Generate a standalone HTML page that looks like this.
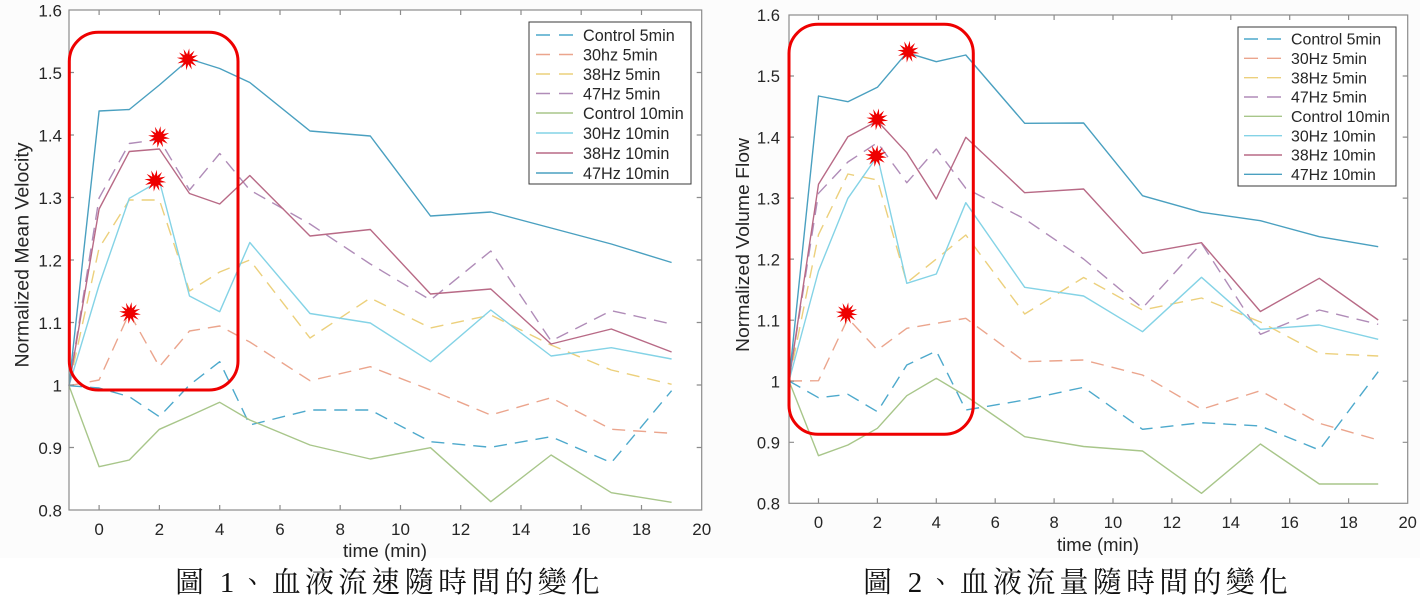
<!DOCTYPE html>
<html><head><meta charset="utf-8"><style>
html,body{margin:0;padding:0;background:#fff;}
svg{display:block;}
text{font-family:"Liberation Sans",Arial,sans-serif;fill:#262626;}
.cap{font-family:"Liberation Serif","Noto Serif CJK TC","Noto Serif CJK SC",serif;fill:#111;}
.ax{stroke:#8c8c8c;stroke-width:1.2;fill:none;}
.s{fill:none;stroke-width:1.4;stroke-linejoin:round;}
.d{stroke-dasharray:13 8;}
</style></head><body>
<svg width="1420" height="602" viewBox="0 0 1420 602" xmlns="http://www.w3.org/2000/svg">
<defs>
<polygon id="star" fill="#ee0000" points="11,0 4.83,1.29 9.53,5.5 3.54,3.54 5.5,9.53 1.29,4.83 0,11 -1.29,4.83 -5.5,9.53 -3.54,3.54 -9.53,5.5 -4.83,1.29 -11,0 -4.83,-1.29 -9.53,-5.5 -3.54,-3.54 -5.5,-9.53 -1.29,-4.83 0,-11 1.29,-4.83 5.5,-9.53 3.54,-3.54 9.53,-5.5 4.83,-1.29"/>
</defs>
<rect x="0" y="0" width="722" height="558" fill="#fcfcfc"/>
<rect x="722" y="0" width="698" height="558" fill="#fcfcfc"/>

<!-- ============ LEFT CHART ============ -->
<rect x="69" y="10" width="632.7" height="500" fill="#fff"/>
<!-- series -->
<polyline class="s" stroke="#b08cb8" style="stroke-dasharray:13 8" points="69,385.7 99.1,198 129.3,143.5 159.4,139.5 189.5,190 219.7,153.5 249.8,190 310,224 370.3,264 430.5,300 490.8,251 551.1,341 611.3,310.7 671.6,324"/>
<polyline class="s" stroke="#ecd07c" style="stroke-dasharray:13 8" points="69,385.7 99.1,248 129.3,200 159.4,200 189.5,291 219.7,272 249.8,260 310,338 370.3,298 430.5,328 490.8,315 551.1,345 611.3,370 671.6,384.3"/>
<polyline class="s" stroke="#eba58d" style="stroke-dasharray:13 8" points="69,385.7 99.1,380 129.3,313 159.4,366.7 189.5,331 219.7,326 249.8,342 310,380.7 370.3,366.7 430.5,390 490.8,415 551.1,397.7 611.3,429.3 671.6,433.3"/>
<polyline class="s" stroke="#4da9cc" style="stroke-dasharray:13 8" points="69,385.7 99.1,388 129.3,396.7 159.4,416.7 189.5,385 219.7,361.7 249.8,425 310,410 370.3,410 430.5,441.7 490.8,447.3 551.1,436.7 611.3,462.7 671.6,390.7"/>
<polyline class="s" stroke="#a8c68a" points="69,385.7 99.1,466.7 129.3,460 159.4,429.3 189.5,416 219.7,402.3 249.8,420 310,445 370.3,459 430.5,447.7 490.8,501.7 551.1,455 611.3,492.7 671.6,502.3"/>
<polyline class="s" stroke="#84d3e6" points="69,385.7 99.1,285 129.3,198.3 159.4,181 189.5,296 219.7,311.7 249.8,242.5 310,313.5 370.3,323 430.5,361.7 490.8,310 551.1,356 611.3,347.7 671.6,359"/>
<polyline class="s" stroke="#b86a86" points="69,385.7 99.1,209 129.3,151.5 159.4,149 189.5,193.5 219.7,204 249.8,175.5 310,236 370.3,229.5 430.5,294 490.8,289 551.1,344 611.3,329 671.6,352"/>
<polyline class="s" stroke="#4aa0c0" points="69,385.7 99.1,111 129.3,109.5 159.4,85 189.5,59 219.7,68.5 249.8,82.5 310,131 370.3,136 430.5,216 490.8,212 551.1,228 611.3,244 671.6,262.5"/>
<!-- axes -->
<rect class="ax" x="69" y="10" width="632.7" height="500"/>
<path class="ax" d="M99.1,510v-5M159.4,510v-5M219.7,510v-5M280,510v-5M340.2,510v-5M400.5,510v-5M460.7,510v-5M521,510v-5M581.2,510v-5M641.5,510v-5
M99.1,10v5M159.4,10v5M219.7,10v5M280,10v5M340.2,10v5M400.5,10v5M460.7,10v5M521,10v5M581.2,10v5M641.5,10v5
M69,447.5h5M69,385h5M69,322.5h5M69,260h5M69,197.5h5M69,135h5M69,72.5h5
M701.7,447.5h-5M701.7,385h-5M701.7,322.5h-5M701.7,260h-5M701.7,197.5h-5M701.7,135h-5M701.7,72.5h-5"/>
<g font-size="17" text-anchor="middle">
<text x="99.1" y="535">0</text><text x="159.4" y="535">2</text><text x="219.7" y="535">4</text><text x="280" y="535">6</text><text x="340.2" y="535">8</text><text x="400.5" y="535">10</text><text x="460.7" y="535">12</text><text x="521" y="535">14</text><text x="581.2" y="535">16</text><text x="641.5" y="535">18</text><text x="701.7" y="535">20</text>
</g>
<g font-size="17" text-anchor="end">
<text x="62" y="516.5">0.8</text><text x="62" y="454">0.9</text><text x="62" y="391.5">1</text><text x="62" y="329">1.1</text><text x="62" y="266.5">1.2</text><text x="62" y="204">1.3</text><text x="62" y="141.5">1.4</text><text x="62" y="79">1.5</text><text x="62" y="16.5">1.6</text>
</g>
<text x="385" y="557" font-size="18.7" text-anchor="middle" textLength="84" lengthAdjust="spacingAndGlyphs">time (min)</text>
<text transform="translate(28.5,255) rotate(-90)" font-size="19" text-anchor="middle" textLength="225" lengthAdjust="spacingAndGlyphs">Normalized Mean Velocity</text>
<!-- legend -->
<rect x="529" y="22" width="162" height="162" fill="#fff" stroke="#3a3a3a" stroke-width="1"/>
<g stroke-width="1.4">
<line x1="536" y1="35" x2="573" y2="35" stroke="#4da9cc" stroke-dasharray="14 9"/>
<line x1="536" y1="54.5" x2="573" y2="54.5" stroke="#eba58d" stroke-dasharray="14 9"/>
<line x1="536" y1="74" x2="573" y2="74" stroke="#ecd07c" stroke-dasharray="14 9"/>
<line x1="536" y1="93.5" x2="573" y2="93.5" stroke="#b08cb8" stroke-dasharray="14 9"/>
<line x1="536" y1="113" x2="573" y2="113" stroke="#a8c68a"/>
<line x1="536" y1="133" x2="573" y2="133" stroke="#84d3e6"/>
<line x1="536" y1="153" x2="573" y2="153" stroke="#b86a86"/>
<line x1="536" y1="173" x2="573" y2="173" stroke="#4aa0c0"/>
</g>
<g font-size="16.2">
<text x="583" y="40.8">Control 5min</text>
<text x="583" y="60.3">30hz 5min</text>
<text x="583" y="79.8">38Hz 5min</text>
<text x="583" y="99.3">47Hz 5min</text>
<text x="583" y="118.8">Control 10min</text>
<text x="583" y="138.8">30Hz 10min</text>
<text x="583" y="158.8">38Hz 10min</text>
<text x="583" y="178.8">47Hz 10min</text>
</g>
<!-- annotation -->
<rect x="69.3" y="32.3" width="168.7" height="357.7" rx="29" ry="29" fill="none" stroke="#ee0000" stroke-width="3"/>
<use href="#star" transform="translate(187.7,59.3) rotate(8)"/>
<use href="#star" transform="translate(159,137) rotate(8)"/>
<use href="#star" transform="translate(155.3,180.7) rotate(8)"/>
<use href="#star" transform="translate(130,313) rotate(8)"/>
<text class="cap" x="175" y="592" font-size="29" textLength="425" lengthAdjust="spacing">圖 1、血液流速隨時間的變化</text>

<!-- ============ RIGHT CHART ============ -->
<rect x="789" y="15" width="618.7" height="488.3" fill="#fff"/>
<polyline class="s" stroke="#b08cb8" style="stroke-dasharray:13 8" points="789,381 818.5,193.3 847.9,162 877.4,142.7 906.8,182.7 936.3,149 965.8,188.3 1024.7,219 1083.6,259 1142.5,308 1201.5,243.3 1260.4,334.3 1319.3,310 1378.2,324.3"/>
<polyline class="s" stroke="#ecd07c" style="stroke-dasharray:13 8" points="789,381 818.5,234.7 847.9,174 877.4,180 906.8,282.7 936.3,259 965.8,235 1024.7,314 1083.6,277.5 1142.5,310 1201.5,298 1260.4,322 1319.3,353.3 1378.2,356"/>
<polyline class="s" stroke="#eba58d" style="stroke-dasharray:13 8" points="789,381 818.5,380.7 847.9,318.3 877.4,350 906.8,328.3 936.3,323.3 965.8,318.3 1024.7,361.7 1083.6,360 1142.5,375 1201.5,409.3 1260.4,390.7 1319.3,423.3 1378.2,440"/>
<polyline class="s" stroke="#4da9cc" style="stroke-dasharray:13 8" points="789,381 818.5,397.7 847.9,394.3 877.4,411.7 906.8,365 936.3,351 965.8,410 1024.7,400 1083.6,387.3 1142.5,429.3 1201.5,422.7 1260.4,426 1319.3,450 1378.2,371.7"/>
<polyline class="s" stroke="#a8c68a" points="789,381 818.5,455.7 847.9,445 877.4,428.3 906.8,395.7 936.3,378.3 965.8,396 1024.7,436.7 1083.6,446.5 1142.5,451 1201.5,493.3 1260.4,444 1319.3,484 1378.2,484"/>
<polyline class="s" stroke="#84d3e6" points="789,381 818.5,271 847.9,198.3 877.4,156 906.8,283.3 936.3,274 965.8,202.7 1024.7,287.3 1083.6,296 1142.5,331.7 1201.5,277.3 1260.4,329.3 1319.3,325 1378.2,339.3"/>
<polyline class="s" stroke="#b86a86" points="789,381 818.5,184.3 847.9,136.7 877.4,121 906.8,152.7 936.3,199 965.8,137.3 1024.7,192.7 1083.6,189 1142.5,253.3 1201.5,242.7 1260.4,311.5 1319.3,278.3 1378.2,320"/>
<polyline class="s" stroke="#4aa0c0" points="789,381 818.5,96 847.9,101.7 877.4,87.3 906.8,52.7 936.3,61.7 965.8,55 1024.7,123.3 1083.6,123 1142.5,195.7 1201.5,212.3 1260.4,220.7 1319.3,236.7 1378.2,246.7"/>
<rect class="ax" x="789" y="15" width="618.7" height="488.3"/>
<path class="ax" d="M818.5,503.3v-5M877.4,503.3v-5M936.3,503.3v-5M995.2,503.3v-5M1054.1,503.3v-5M1113,503.3v-5M1171.9,503.3v-5M1230.8,503.3v-5M1289.7,503.3v-5M1348.6,503.3v-5
M818.5,15v5M877.4,15v5M936.3,15v5M995.2,15v5M1054.1,15v5M1113,15v5M1171.9,15v5M1230.8,15v5M1289.7,15v5M1348.6,15v5
M789,442.3h5M789,381.2h5M789,320.2h5M789,259.1h5M789,198.1h5M789,137.1h5M789,76h5
M1407.7,442.3h-5M1407.7,381.2h-5M1407.7,320.2h-5M1407.7,259.1h-5M1407.7,198.1h-5M1407.7,137.1h-5M1407.7,76h-5"/>
<g font-size="16.6" text-anchor="middle">
<text x="818.5" y="528">0</text><text x="877.4" y="528">2</text><text x="936.3" y="528">4</text><text x="995.2" y="528">6</text><text x="1054.1" y="528">8</text><text x="1113" y="528">10</text><text x="1171.9" y="528">12</text><text x="1230.8" y="528">14</text><text x="1289.7" y="528">16</text><text x="1348.6" y="528">18</text><text x="1407.7" y="528">20</text>
</g>
<g font-size="16.6" text-anchor="end">
<text x="780" y="509.5">0.8</text><text x="780" y="448.5">0.9</text><text x="780" y="387.4">1</text><text x="780" y="326.4">1.1</text><text x="780" y="265.3">1.2</text><text x="780" y="204.3">1.3</text><text x="780" y="143.3">1.4</text><text x="780" y="82.2">1.5</text><text x="780" y="21.2">1.6</text>
</g>
<text x="1098" y="551" font-size="18.3" text-anchor="middle" textLength="82" lengthAdjust="spacingAndGlyphs">time (min)</text>
<text transform="translate(749,245) rotate(-90)" font-size="18.6" text-anchor="middle" textLength="214" lengthAdjust="spacingAndGlyphs">Normalized Volume Flow</text>
<rect x="1238" y="27" width="158" height="159" fill="#fff" stroke="#3a3a3a" stroke-width="1"/>
<g stroke-width="1.4">
<line x1="1244" y1="39" x2="1282" y2="39" stroke="#4da9cc" stroke-dasharray="14 9"/>
<line x1="1244" y1="58.3" x2="1282" y2="58.3" stroke="#eba58d" stroke-dasharray="14 9"/>
<line x1="1244" y1="77.7" x2="1282" y2="77.7" stroke="#ecd07c" stroke-dasharray="14 9"/>
<line x1="1244" y1="97" x2="1282" y2="97" stroke="#b08cb8" stroke-dasharray="14 9"/>
<line x1="1244" y1="116.3" x2="1282" y2="116.3" stroke="#a8c68a"/>
<line x1="1244" y1="135.7" x2="1282" y2="135.7" stroke="#84d3e6"/>
<line x1="1244" y1="155" x2="1282" y2="155" stroke="#b86a86"/>
<line x1="1244" y1="174.3" x2="1282" y2="174.3" stroke="#4aa0c0"/>
</g>
<g font-size="15.9">
<text x="1291" y="44.7">Control 5min</text>
<text x="1291" y="64">30Hz 5min</text>
<text x="1291" y="83.4">38Hz 5min</text>
<text x="1291" y="102.7">47Hz 5min</text>
<text x="1291" y="122">Control 10min</text>
<text x="1291" y="141.4">30Hz 10min</text>
<text x="1291" y="160.7">38Hz 10min</text>
<text x="1291" y="180">47Hz 10min</text>
</g>
<rect x="789" y="24.3" width="184.3" height="410" rx="29" ry="29" fill="none" stroke="#ee0000" stroke-width="3"/>
<use href="#star" transform="translate(908.3,51.7) rotate(8)"/>
<use href="#star" transform="translate(877.3,119.3) rotate(8)"/>
<use href="#star" transform="translate(876,156) rotate(8)"/>
<use href="#star" transform="translate(846.7,313.3) rotate(8)"/>
<text class="cap" x="863" y="592" font-size="29" textLength="425" lengthAdjust="spacing">圖 2、血液流量隨時間的變化</text>
</svg>
</body></html>
